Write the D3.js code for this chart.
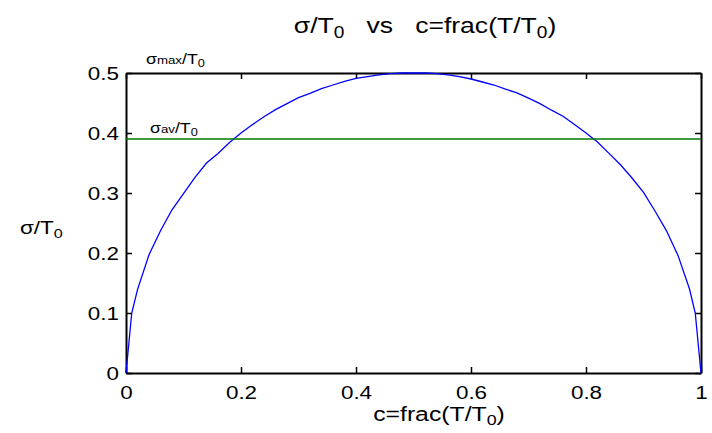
<!DOCTYPE html>
<html>
<head>
<meta charset="utf-8">
<script src="https://cdn.jsdelivr.net/npm/d3@7"></script>
<style>
  body { margin: 0; background: #ffffff; }
  svg { display: block; font-family: Arial, "Liberation Sans", sans-serif; }
</style>
</head>
<body>
<svg width="712" height="433"></svg>
<script>
// data
var cValues = [0, 0.01, 0.02, 0.04, 0.06, 0.08, 0.10, 0.12, 0.14, 0.16, 0.18, 0.20, 0.22, 0.24, 0.26,
  0.28, 0.30, 0.32, 0.34, 0.36, 0.38, 0.40, 0.42, 0.44, 0.46, 0.48, 0.50, 0.52, 0.54, 0.56, 0.58,
  0.60, 0.62, 0.64, 0.66, 0.68, 0.70, 0.72, 0.74, 0.76, 0.78, 0.80, 0.82, 0.84, 0.86, 0.88, 0.90,
  0.92, 0.94, 0.96, 0.98, 0.99, 1]
var sigmaValues = [0, 0.100, 0.139, 0.197, 0.237, 0.272, 0.299, 0.326, 0.350, 0.366, 0.384, 0.400, 0.414,
  0.427, 0.439, 0.449, 0.459, 0.466, 0.474, 0.480, 0.486, 0.491, 0.494, 0.497, 0.499, 0.500, 0.500,
  0.500, 0.499, 0.497, 0.494, 0.490, 0.485, 0.480, 0.473, 0.467, 0.458, 0.449, 0.438, 0.428, 0.414,
  0.400, 0.385, 0.366, 0.347, 0.325, 0.301, 0.270, 0.237, 0.196, 0.140, 0.100, 0]
var avgValue = [0.39]
var xTicks = [0, 0.2, 0.4, 0.6, 0.8, 1]
var yTicks = [0, 0.1, 0.2, 0.3, 0.4, 0.5]

var plotLeft = 126, plotRight = 701, plotTop = 73, plotBottom = 373
var stretch = 1.18

var svg = d3.select('svg')

var x = d3.scaleLinear().domain([0, 1]).range([plotLeft, plotRight])
var y = d3.scaleLinear().domain([0, 0.5]).range([plotBottom, plotTop])

// axes with inward ticks, box style
var fmt = function(d) { return d === 0 || d === 1 ? String(d) : d3.format('.1f')(d) }

var gx = svg.append('g').attr('transform', 'translate(0,' + plotBottom + ')')
  .call(d3.axisBottom(x).tickValues(xTicks).tickFormat(fmt).tickSizeInner(-6).tickSizeOuter(0).tickPadding(13))
var gy = svg.append('g').attr('transform', 'translate(' + plotLeft + ',0)')
  .call(d3.axisLeft(y).tickValues(yTicks).tickFormat(fmt).tickSizeInner(-6).tickSizeOuter(0).tickPadding(8))
svg.append('g').attr('transform', 'translate(0,' + plotTop + ')')
  .call(d3.axisTop(x).tickValues(xTicks).tickFormat('').tickSizeInner(-6).tickSizeOuter(0))
svg.append('g').attr('transform', 'translate(' + plotRight + ',0)')
  .call(d3.axisRight(y).tickValues(yTicks).tickFormat('').tickSizeInner(-6).tickSizeOuter(0))

svg.selectAll('.domain').attr('stroke', '#000').attr('stroke-width', 2)
svg.selectAll('.tick line').attr('stroke', '#000').attr('stroke-width', 1.5)
gx.selectAll('.tick text').attr('font-size', 19).attr('fill', '#000')
  .attr('transform', 'scale(' + stretch + ',1)')
  .attr('x', 0)
gx.selectAll('.tick text').attr('dy', '0.71em')
gy.selectAll('.tick text').attr('font-size', 19).attr('fill', '#000')
  .attr('x', -7 / stretch)
  .attr('transform', 'scale(' + stretch + ',1)')

// curve
var line = d3.line()
  .x(function(d, i) { return x(cValues[i]) })
  .y(function(d) { return y(d) })

svg.append('path')
  .datum(sigmaValues)
  .attr('d', line)
  .attr('fill', 'none')
  .attr('stroke', '#0000ff')
  .attr('stroke-width', 1.3)

// average line
svg.selectAll('.avg')
  .data(avgValue)
  .enter()
  .append('line')
  .attr('x1', x(0)).attr('x2', x(1))
  .attr('y1', function(d) { return y(d) })
  .attr('y2', function(d) { return y(d) })
  .attr('stroke', '#007a00')
  .attr('stroke-width', 1.5)

// text helper: parts are [string, kind, dy]
function label(px, py, size, anchor, parts) {
  var g = svg.append('g').attr('transform', 'translate(' + px + ',' + py + ') scale(' + stretch + ',1)')
  var t = g.append('text').attr('font-size', size).attr('text-anchor', anchor)
    .attr('fill', '#000').attr('xml:space', 'preserve')
  parts.forEach(function(p) {
    var s = t.append('tspan').text(p[0])
    if (p[1] === 'sub') s.attr('font-size', size * 0.72).attr('dy', size * 0.2)
    else if (p[1] === 'small') s.attr('font-size', size * 0.75)
    else s.attr('dy', p[2] || 0)
  })
  return t
}

// title
label(425, 33, 22.5, 'middle', [['σ/T'], ['0', 'sub'], ['   vs   c=frac(T/T', null, -22.5 * 0.2], ['0', 'sub'], [')', null, -22.5 * 0.2]])

// axis labels
label(439, 421, 21, 'middle', [['c=frac(T/T'], ['0', 'sub'], [')', null, -21 * 0.2]])
label(20, 234, 19, 'start', [['σ/T'], ['0', 'sub']])

// annotations
label(146, 64, 15, 'start', [['σ'], ['max', 'small'], ['/T'], ['0', 'sub']])
label(150, 133, 15, 'start', [['σ'], ['av', 'small'], ['/T'], ['0', 'sub']])
</script>
</body>
</html>
